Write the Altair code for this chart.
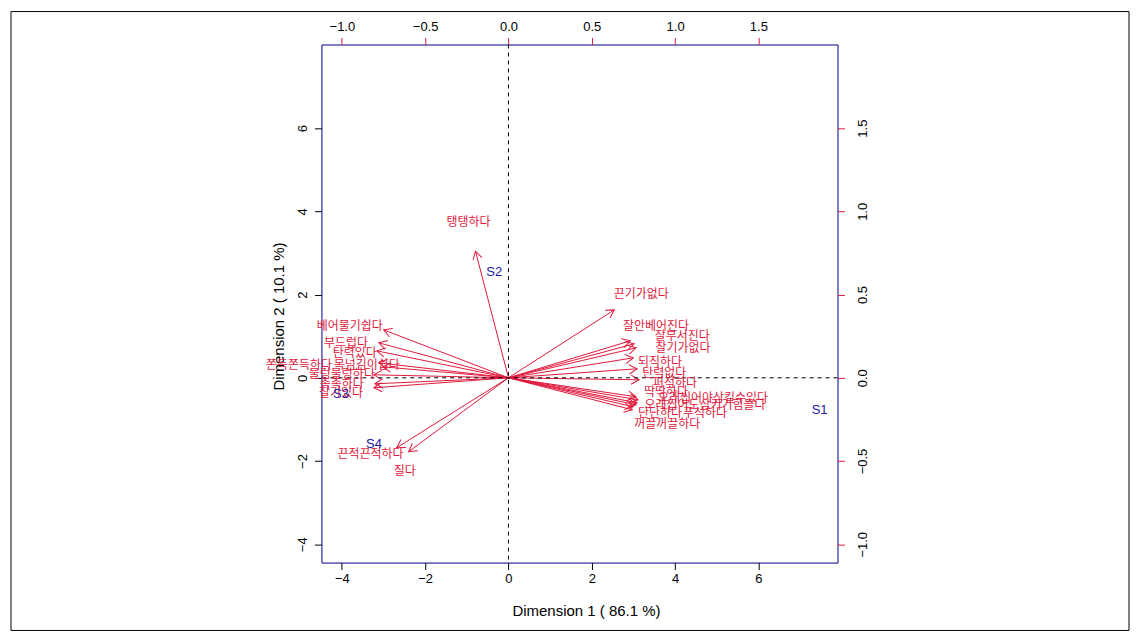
import altair as alt
import pandas as pd

# ---- data ----
var_names = ["탱탱하다", "끈기가없다", "잘안베어진다", "잘부서진다", "찰기가없다", "되직하다",
             "탄력없다", "퍼석하다", "딱딱하다", "오래씹어야삼킬수있다", "오래씹어도삼키기힘들다",
             "단단하다", "푸석하다", "꺼끌꺼끌하다", "베어물기쉽다", "부드럽다", "탄력있다",
             "쫀득쫀득하다", "목넘김이쉽다", "물렁물렁하다", "촉촉하다", "찰기있다",
             "끈적끈적하다", "질다"]
# arrow tips, in the units of the top / right axes
arrow_x = [-0.198, 0.635, 0.731, 0.754, 0.766, 0.749, 0.772, 0.784, 0.766, 0.778, 0.772,
           0.749, 0.766, 0.743, -0.749, -0.778, -0.790, -0.778, -0.754, -0.808, -0.802, -0.808,
           -0.671, -0.599]
arrow_y = [0.761, 0.408, 0.222, 0.204, 0.180, 0.120, 0.054, -0.012, -0.114, -0.132, -0.150,
           -0.174, -0.162, -0.192, 0.288, 0.210, 0.162, 0.090, 0.066, 0.018, -0.036, -0.060,
           -0.420, -0.444]
# label positions, in the units of the bottom / left axes
label_x = [-0.96, 3.19, 3.54, 4.17, 4.19, 3.64, 3.74, 4.00, 3.78, 4.91, 4.72,
           3.64, 4.72, 3.81, -3.81, -3.90, -3.69, -5.03, -3.40, -4.00, -4.00, -4.02,
           -3.31, -2.49]
label_y = [3.74, 2.01, 1.25, 1.01, 0.72, 0.38, 0.12, -0.12, -0.34, -0.48, -0.65,
           -0.84, -0.84, -1.10, 1.25, 0.84, 0.60, 0.31, 0.31, 0.10, -0.14, -0.36,
           -1.82, -2.25]

sample_names = ["S1", "S2", "S3", "S4"]
sample_x = [7.47, -0.34, -4.02, -3.23]
sample_y = [-0.77, 2.54, -0.38, -1.58]

x_ticks = [-4, -2, 0, 2, 4, 6]
y_ticks = [-4, -2, 0, 2, 4, 6]
x2_ticks = [-1.0, -0.5, 0.0, 0.5, 1.0, 1.5]
y2_ticks = [-1.0, -0.5, 0.0, 0.5, 1.0, 1.5]
x_domain = [-4.49, 7.90]
y_domain = [-4.44, 8.01]
x2_domain = [-1.1225, 1.975]
y2_domain = [-1.11, 2.0025]

RED = "#E0193C"
BLUE = "#1B1BA0"
NAVY = "#00008B"
NUMFONT = "Liberation Sans"
KFONT = "Noto Sans CJK KR"

arrows = pd.DataFrame({"name": var_names, "xs": arrow_x, "ys": arrow_y})
labels = pd.DataFrame({"name": var_names, "lx": label_x, "ly": label_y})
samples = pd.DataFrame({"name": sample_names, "sx": sample_x, "sy": sample_y})
one = pd.DataFrame({"a": [0]})

xscale = alt.Scale(domain=x_domain, nice=False, zero=False)
yscale = alt.Scale(domain=y_domain, nice=False, zero=False)
x2scale = alt.Scale(domain=x2_domain, nice=False, zero=False)
y2scale = alt.Scale(domain=y2_domain, nice=False, zero=False)

axis_common = dict(grid=False, domain=False, labelFont=NUMFONT, labelFontSize=13,
                   labelColor="black", titleFont=NUMFONT, titleFontSize=15,
                   titleFontWeight="normal", titleColor="black", tickSize=7)

xaxis = alt.Axis(values=x_ticks, orient="bottom", title="Dimension 1 ( 86.1 %)",
                 tickColor="black", labelPadding=3, titlePadding=18, titleX=265,
                 **axis_common)
yaxis = alt.Axis(values=y_ticks, orient="left", title="Dimension 2 ( 10.1 %)",
                 tickColor="black", labelAngle=-90, labelAlign="center",
                 labelBaseline="bottom", labelPadding=5, titlePadding=10, titleY=272,
                 **axis_common)
x2axis = alt.Axis(values=x2_ticks, orient="top", title=None, format=".1f",
                  tickColor=RED, labelPadding=4, **axis_common)
y2axis = alt.Axis(values=y2_ticks, orient="right", title=None, format=".1f",
                  tickColor=RED, labelAngle=-90, labelAlign="center",
                  labelBaseline="top", labelPadding=12, **axis_common)

# outer frame of the figure
frame = alt.Chart(one).mark_rect(fillOpacity=0, stroke="black", strokeWidth=1).encode(
    x=alt.value(-311), x2=alt.value(809), y=alt.value(-33), y2=alt.value(587))

vline = alt.Chart(one).mark_rule(color="black", strokeDash=[4, 4], strokeWidth=1).encode(
    x=alt.X("z:Q", scale=xscale, axis=xaxis)).transform_calculate(z="0")
hline = alt.Chart(one).mark_rule(color="black", strokeDash=[4, 4], strokeWidth=1).encode(
    y=alt.Y("z:Q", scale=yscale, axis=yaxis)).transform_calculate(z="0")

var_text = alt.Chart(labels).mark_text(color=RED, font=KFONT, fontSize=12,
                                       align="center", baseline="middle").encode(
    x=alt.X("lx:Q", scale=xscale, axis=xaxis),
    y=alt.Y("ly:Q", scale=yscale, axis=yaxis),
    text="name:N")

samp_text = alt.Chart(samples).mark_text(color=BLUE, font=NUMFONT, fontSize=13,
                                         align="center", baseline="middle").encode(
    x=alt.X("sx:Q", scale=xscale, axis=xaxis),
    y=alt.Y("sy:Q", scale=yscale, axis=yaxis),
    text="name:N")

primary = alt.layer(frame, vline, hline, var_text, samp_text)

arrow_lines = alt.Chart(arrows).mark_rule(color=RED, strokeWidth=1).encode(
    x=alt.X("z:Q", scale=x2scale, axis=x2axis),
    y=alt.Y("z:Q", scale=y2scale, axis=y2axis),
    x2="xs:Q", y2="ys:Q").transform_calculate(z="0")

heads = alt.Chart(arrows).mark_point(
    shape="M -1 -0.577 L 0 0 L -1 0.577", filled=False, color=RED,
    strokeWidth=1, size=256, opacity=1).encode(
    x=alt.X("xs:Q", scale=x2scale, axis=x2axis),
    y=alt.Y("ys:Q", scale=y2scale, axis=y2axis),
    angle=alt.Angle("ang:Q", scale=None)).transform_calculate(
    ang="(atan2(-datum.ys, datum.xs) * 180 / PI + 360) % 360")

secondary = alt.layer(arrow_lines, heads)

chart = alt.layer(secondary, primary).resolve_scale(
    x="independent", y="independent").properties(
    width=517, height=519, padding=2, background="white"
).configure_view(stroke=NAVY, strokeWidth=1)

chart.save("out.html", embed_options={"renderer": "svg", "actions": False})
